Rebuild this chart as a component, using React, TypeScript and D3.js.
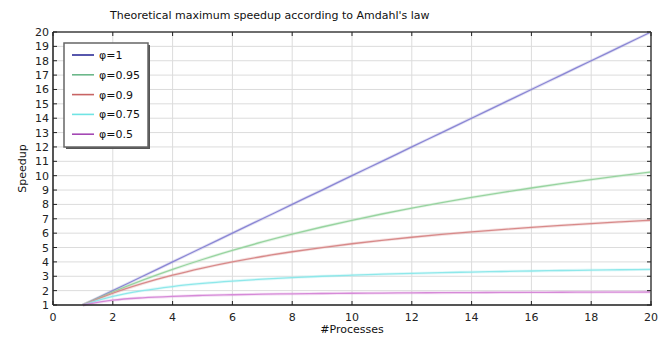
import React from 'react';
import * as d3 from 'd3';

// #processes
const processes = [1, 2, 3, 4, 5, 6, 7, 8, 9, 10, 11, 12, 13, 14, 15, 16, 17, 18, 19, 20];

// speedup per parallel fraction
const speedupP100 = [1, 2, 3, 4, 5, 6, 7, 8, 9, 10, 11, 12, 13, 14, 15, 16, 17, 18, 19, 20];
const speedupP95 = [1, 1.905, 2.727, 3.478, 4.167, 4.8, 5.385, 5.926, 6.429, 6.897, 7.333, 7.742, 8.125, 8.485, 8.824, 9.143, 9.444, 9.73, 10, 10.256];
const speedupP90 = [1, 1.818, 2.5, 3.077, 3.571, 4, 4.375, 4.706, 5, 5.263, 5.5, 5.714, 5.909, 6.087, 6.25, 6.4, 6.538, 6.667, 6.786, 6.897];
const speedupP75 = [1, 1.6, 2, 2.286, 2.5, 2.667, 2.8, 2.909, 3, 3.077, 3.143, 3.2, 3.25, 3.294, 3.333, 3.368, 3.4, 3.429, 3.455, 3.478];
const speedupP50 = [1, 1.333, 1.5, 1.6, 1.667, 1.714, 1.75, 1.778, 1.8, 1.818, 1.833, 1.846, 1.857, 1.867, 1.875, 1.882, 1.889, 1.895, 1.9, 1.905];

const seriesNames = ['φ=1', 'φ=0.95', 'φ=0.9', 'φ=0.75', 'φ=0.5'];
const seriesValues = [speedupP100, speedupP95, speedupP90, speedupP75, speedupP50];
const lineColors = ['#8a86d4', '#98d4a0', '#d88a8a', '#8ee8ea', '#d68ad8'];
const legendColors = ['#2c2c98', '#6cb88a', '#c86464', '#70e4e4', '#a448b4'];

const xTicks = [0, 2, 4, 6, 8, 10, 12, 14, 16, 18, 20];
const yTicks = d3.range(1, 21);

const W = 663;
const H = 337;
const margin = { left: 53, right: 12, top: 32, bottom: 32 };

export default function App() {
  const x = d3.scaleLinear().domain([0, 20]).range([margin.left, W - margin.right]);
  const y = d3.scaleLinear().domain([1, 20]).range([H - margin.bottom, margin.top]);
  const line = d3.line<number>()
    .x((d, i) => x(processes[i]))
    .y((d) => y(d))
    .curve(d3.curveMonotoneX);

  const font = 'DejaVu Sans, sans-serif';
  const x0 = x(0), x1 = x(20), y0 = y(1), y1 = y(20);

  return (
    <svg width={W} height={H} style={{ position: 'absolute', left: 0, top: 0, background: '#fff' }} fontFamily={font}>
      <rect width={W} height={H} fill="#fff" />
      <text x={110} y={19} fontSize={11} fill="#111">Theoretical maximum speedup according to Amdahl's law</text>

      {/* grid */}
      {xTicks.map((t) => (
        <line key={'gx' + t} x1={x(t)} x2={x(t)} y1={y1} y2={y0} stroke="#dcdcdc" strokeWidth={1} />
      ))}
      {yTicks.map((t) => (
        <line key={'gy' + t} x1={x0} x2={x1} y1={y(t)} y2={y(t)} stroke="#dcdcdc" strokeWidth={1} />
      ))}

      {/* curves */}
      {seriesValues.map((vals, i) => (
        <g key={'s' + i}>
          <path d={line(vals) || ''} fill="none" stroke={lineColors[i]} strokeWidth={3} strokeOpacity={0.25} />
          <path d={line(vals) || ''} fill="none" stroke={lineColors[i]} strokeWidth={1.3} />
        </g>
      ))}

      {/* frame */}
      <line x1={x0} x2={x1} y1={y1} y2={y1} stroke="#6e6e6e" strokeWidth={2} />
      <line x1={x1} x2={x1} y1={y1} y2={y0} stroke="#6e6e6e" strokeWidth={2} />
      <line x1={x0} x2={x1 + 1} y1={y0} y2={y0} stroke="#222" strokeWidth={1.5} />
      <line x1={x0} x2={x0} y1={y1} y2={y0} stroke="#222" strokeWidth={1.5} />

      {/* ticks */}
      {xTicks.map((t) => (
        <g key={'tx' + t}>
          <line x1={x(t)} x2={x(t)} y1={y0} y2={y0 - 4} stroke="#222" />
          <line x1={x(t)} x2={x(t)} y1={y1} y2={y1 + 4} stroke="#222" />
          <text x={x(t)} y={y0 + 16} fontSize={11} textAnchor="middle" fill="#222">{t}</text>
        </g>
      ))}
      {yTicks.map((t) => (
        <g key={'ty' + t}>
          <line x1={x0} x2={x0 + 4} y1={y(t)} y2={y(t)} stroke="#222" />
          <line x1={x1} x2={x1 - 4} y1={y(t)} y2={y(t)} stroke="#222" />
          <text x={x0 - 4} y={y(t) + 4} fontSize={11} textAnchor="end" fill="#222">{t}</text>
        </g>
      ))}

      <text x={(x0 + x1) / 2} y={H - 4} fontSize={11} textAnchor="middle" fill="#111">#Processes</text>
      <text transform={`translate(26,${(y0 + y1) / 2}) rotate(-90)`} fontSize={11} textAnchor="middle" fill="#111">Speedup</text>

      {/* legend */}
      <rect x={66} y={45} width={84} height={104} fill="#555" />
      <rect x={64} y={43} width={84} height={104} fill="#fff" stroke="#666" strokeWidth={1.5} />
      {seriesNames.map((name, i) => (
        <g key={'l' + i} transform={`translate(0,${55 + i * 19.8})`}>
          <line x1={72} x2={94} y1={0} y2={0} stroke={legendColors[i]} strokeWidth={1.6} />
          <text x={99} y={4} fontSize={11} fill="#111">{name}</text>
        </g>
      ))}
    </svg>
  );
}
